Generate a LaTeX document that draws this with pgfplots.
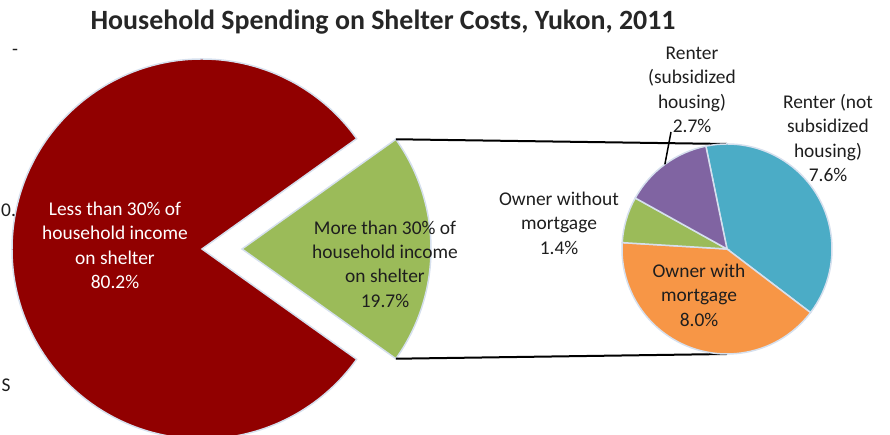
\documentclass[border=0pt]{standalone}
\usepackage{pgfplots}
\pgfplotsset{compat=1.18}
\usepackage{pgfplotstable}
\usepackage{fontspec}
\setmainfont{Carlito}

\definecolor{shred}{RGB}{145,0,0}
\definecolor{shgreen}{RGB}{155,187,89}
\definecolor{shpurple}{RGB}{128,100,162}
\definecolor{shteal}{RGB}{75,172,198}
\definecolor{shorange}{RGB}{247,150,70}
\definecolor{shedge}{RGB}{214,224,238}
\definecolor{shtext}{RGB}{30,30,30}

% share of households, per cent
\pgfplotstableread{
share
80.2
19.7
}\maindata
\pgfplotstableread{
share
7.6
8.0
1.4
2.7
}\subdata

\begin{document}
\begin{tikzpicture}
\pgfplotstablegetelem{0}{share}\of\maindata \let\mA\pgfplotsretval
\pgfplotstablegetelem{1}{share}\of\maindata \let\mB\pgfplotsretval
\pgfmathsetmacro{\half}{180*\mB/(\mA+\mB)}
\pgfmathsetmacro{\redend}{360-\half}
\pgfplotstablegetelem{0}{share}\of\subdata \let\sA\pgfplotsretval
\pgfplotstablegetelem{1}{share}\of\subdata \let\sB\pgfplotsretval
\pgfplotstablegetelem{2}{share}\of\subdata \let\sC\pgfplotsretval
\pgfplotstablegetelem{3}{share}\of\subdata \let\sD\pgfplotsretval
\pgfmathsetmacro{\sT}{\sA+\sB+\sC+\sD}
\pgfmathsetmacro{\tA}{101.6}
\pgfmathsetmacro{\tB}{\tA-360*\sA/\sT}
\pgfmathsetmacro{\tC}{\tB-360*\sB/\sT}
\pgfmathsetmacro{\tD}{\tC-360*\sC/\sT}
\pgfmathsetmacro{\tE}{\tD-360*\sD/\sT}
\pgfmathsetmacro{\tMid}{(\tD+\tE)/2}
\begin{axis}[
    x=1bp, y=1bp,
    xmin=0, xmax=890, ymin=0, ymax=435,
    hide axis,
    clip mode=global,
]
\addplot[draw=none] coordinates {(0,0) (890,435)};
% big pie
\fill[shred, draw=shedge, line width=1.5bp] (axis cs:202,186) -- +(\half:190bp)
    arc[start angle=\half, end angle=\redend, radius=190bp] -- cycle;
\fill[shgreen, draw=shedge, line width=1.5bp] (axis cs:242,186) -- +(-\half:189bp)
    arc[start angle=-\half, end angle=\half, radius=189bp] -- cycle;
% connectors
\draw[black, line width=2bp] ([shift={(\half:189bp)}]axis cs:242,186) -- (axis cs:727,291);
\draw[black, line width=2bp] ([shift={(-\half:189bp)}]axis cs:242,186) -- (axis cs:727,81);
% small pie
\fill[shteal, draw=shedge, line width=1.5bp] (axis cs:727,186) -- +(\tA:105bp)
    arc[start angle=\tA, end angle=\tB, radius=105bp] -- cycle;
\fill[shorange, draw=shedge, line width=1.5bp] (axis cs:727,186) -- +(\tB:105bp)
    arc[start angle=\tB, end angle=\tC, radius=105bp] -- cycle;
\fill[shgreen, draw=shedge, line width=1.5bp] (axis cs:727,186) -- +(\tC:105bp)
    arc[start angle=\tC, end angle=\tD, radius=105bp] -- cycle;
\fill[shpurple, draw=shedge, line width=1.5bp] (axis cs:727,186) -- +(\tD:105bp)
    arc[start angle=\tD, end angle=\tE, radius=105bp] -- cycle;
% leader line for the subsidized renters
\draw[black, line width=1.5bp] ([shift={(\tMid:105bp)}]axis cs:727,186) -- (axis cs:671,303);
% labels
\begin{scope}[every node/.style={align=center, font=\fontsize{19.5}{24.5}\selectfont, text=shtext}]
\node[text=white] at (axis cs:115,189.5) {Less than 30\% of\\household income\\on shelter\\80.2\%};
\node at (axis cs:385,171) {More than 30\% of\\household income\\on shelter\\19.7\%};
\node at (axis cs:692,345) {Renter\\(subsidized\\housing)\\2.7\%};
\node at (axis cs:828,297) {Renter (not\\subsidized\\housing)\\7.6\%};
\node at (axis cs:559,212) {Owner without\\mortgage\\1.4\%};
\node at (axis cs:699,140) {Owner with\\mortgage\\8.0\%};
\node at (axis cs:15,383) {-};
\node[anchor=west, inner sep=0pt] at (axis cs:1,225) {0.};
\node at (axis cs:6,50) {S};
\node[font=\bfseries\fontsize{28}{32}\selectfont, text=black!85] at (axis cs:383,413)
    {Household Spending on Shelter Costs, Yukon, 2011};
\end{scope}
\end{axis}
\pgfresetboundingbox
\path[use as bounding box] (current axis.south west) rectangle (current axis.north east);
\end{tikzpicture}
\end{document}
